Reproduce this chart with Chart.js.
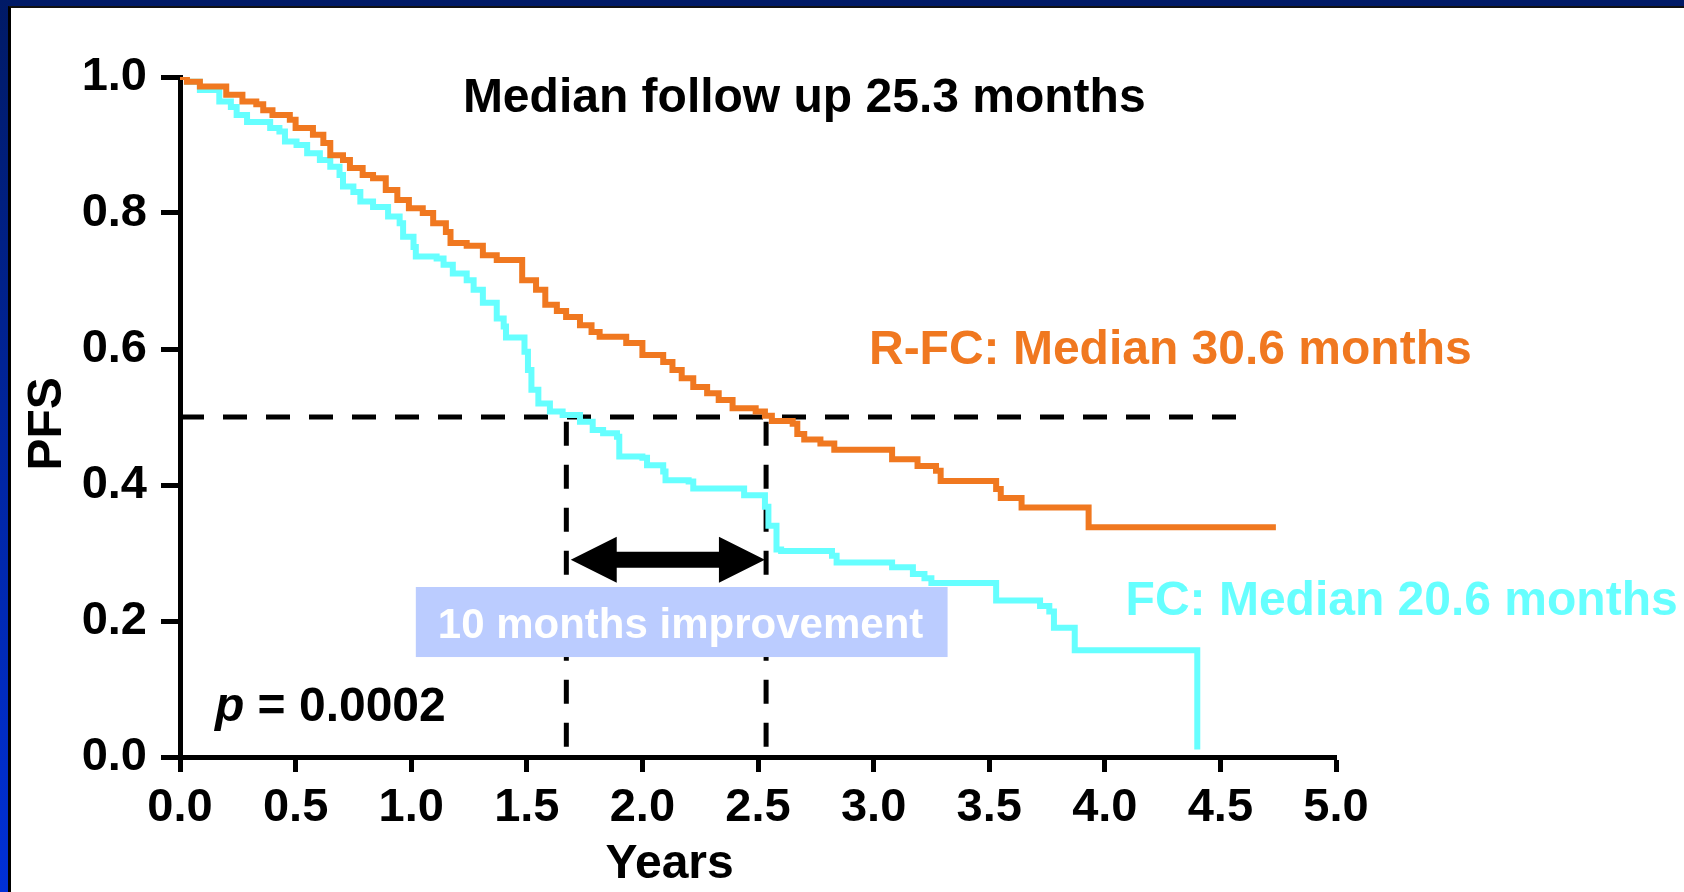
<!DOCTYPE html>
<html>
<head>
<meta charset="utf-8">
<script src="https://cdn.jsdelivr.net/npm/chart.js@4.4.1/dist/chart.umd.min.js"></script>
<style>
  html, body { margin:0; padding:0; width:1684px; height:892px; overflow:hidden; }
  body { background: linear-gradient(to bottom, #001a66 0%, #0030d8 100%); position:relative; }
  #panel { position:absolute; left:8px; top:6px; right:0; bottom:0; background:#fff;
           border-left:3px solid #000; border-top:2px solid #111; }
  #c { position:absolute; left:0; top:0; }
</style>
</head>
<body>
<div id="panel"></div>
<canvas id="c" width="1684" height="892"></canvas>
<script>
const FONT = "'Liberation Sans', Arial, sans-serif"

// R-FC arm: time (years) where a step ends, PFS after the step
const rfcTime = [0,0.03,0.086,0.2,0.27,0.33,0.36,0.40,0.475,0.50,0.575,0.62,0.65,0.705,0.735,0.79,0.835,0.89,0.94,0.99,
  1.05,1.095,1.15,1.17,1.24,1.31,1.37,1.48,1.54,1.58,1.63,1.67,1.73,1.78,1.815,1.93,2.0,2.09,2.13,2.17,2.22,2.28,2.33,
  2.39,2.49,2.53,2.56,2.65,2.67,2.70,2.77,2.83,3.08,3.19,3.27,3.29,3.53,3.55,3.64,3.93,4.74]
const rfcPfs  = [1.0,0.993,0.986,0.974,0.964,0.96,0.951,0.944,0.937,0.925,0.915,0.903,0.885,0.878,0.866,0.856,0.851,0.834,0.819,0.807,
  0.80,0.785,0.772,0.756,0.752,0.738,0.731,0.701,0.687,0.665,0.656,0.647,0.635,0.625,0.618,0.609,0.591,0.581,0.569,0.557,0.544,0.535,0.525,
  0.513,0.508,0.502,0.494,0.49,0.475,0.467,0.461,0.452,0.438,0.428,0.421,0.406,0.394,0.381,0.367,0.338,0.338]

// FC arm
const fcTime = [0,0.03,0.086,0.17,0.22,0.245,0.29,0.39,0.43,0.454,0.504,0.55,0.605,0.65,0.69,0.705,0.75,0.78,0.835,0.9,0.95,0.965,
  1.01,1.02,1.11,1.14,1.18,1.24,1.27,1.31,1.37,1.40,1.41,1.49,1.505,1.52,1.55,1.60,1.655,1.73,1.785,1.83,1.89,1.90,2.0,2.02,2.09,2.10,
  2.20,2.22,2.44,2.53,2.545,2.58,2.60,2.82,2.84,3.08,3.17,3.22,3.25,3.53,3.72,3.76,3.78,3.87,4.40,4.40]
const fcPfs  = [1.0,0.993,0.981,0.964,0.956,0.944,0.934,0.925,0.92,0.905,0.9,0.888,0.878,0.868,0.856,0.839,0.831,0.817,0.809,0.795,0.785,0.765,
  0.75,0.736,0.733,0.724,0.711,0.701,0.687,0.668,0.645,0.633,0.617,0.596,0.569,0.54,0.52,0.508,0.503,0.493,0.481,0.476,0.471,0.442,0.44,0.429,0.42,0.407,
  0.405,0.395,0.385,0.368,0.34,0.305,0.303,0.296,0.286,0.279,0.269,0.263,0.256,0.23,0.222,0.214,0.19,0.157,0.157,0.011]

const medianLevel = 0.5
const medianLineEnd = 4.61
const fcMedian = 1.671
const rfcMedian = 2.535
const xTicks = [0,0.5,1,1.5,2,2.5,3,3.5,4,4.5,5]
const yTicks = [0,0.2,0.4,0.6,0.8,1.0]

const toPts = (ts, ss) => ts.map((t,i)=>({x:t, y:ss[i]}))

// text placements (data units)
const notes = [
  {text:'Median follow up 25.3 months', x:2.70, y:0.968, color:'#000', align:'center'},
  {text:'R-FC: Median 30.6 months', x:2.98, y:0.598, color:'#f07820', align:'left'},
  {text:'FC: Median 20.6 months', x:4.09, y:0.229, color:'#66ffff', align:'left'},
  {text:'Years', x:2.118, y:-0.159, color:'#000', align:'center'},
]
const yTitle = {text:'PFS', x:-0.57, y:0.49}
const box = {x0:1.02, x1:3.32, y0:0.25, y1:0.147, text:'10 months improvement', tx:2.165, ty:0.192}
const arrow = {x0:1.69, x1:2.53, y:0.29}
const pNote = {x:0.151, y:0.073}

const annot = {
  id:'annot',
  afterDatasetsDraw(chart){
    const {ctx, scales:{x, y}} = chart
    ctx.save()
    ctx.textBaseline = 'middle'
    ctx.font = `bold 48px ${FONT}`
    for(const n of notes){
      ctx.fillStyle = n.color
      ctx.textAlign = n.align
      ctx.fillText(n.text, x.getPixelForValue(n.x), y.getPixelForValue(n.y))
    }
    // rotated y title
    ctx.save()
    ctx.translate(x.getPixelForValue(yTitle.x), y.getPixelForValue(yTitle.y))
    ctx.rotate(-Math.PI/2)
    ctx.fillStyle = '#000'
    ctx.textAlign = 'center'
    ctx.fillText(yTitle.text, 0, 0)
    ctx.restore()
    // p value, italic p
    let px = x.getPixelForValue(pNote.x), py = y.getPixelForValue(pNote.y)
    ctx.fillStyle = '#000'
    ctx.textAlign = 'left'
    ctx.font = `italic bold 48px ${FONT}`
    ctx.fillText('p', px, py)
    px += ctx.measureText('p').width
    ctx.font = `bold 48px ${FONT}`
    ctx.fillText(' = 0.0002', px, py)
    // improvement box
    const bx0 = x.getPixelForValue(box.x0), bx1 = x.getPixelForValue(box.x1)
    const by0 = y.getPixelForValue(box.y0), by1 = y.getPixelForValue(box.y1)
    ctx.fillStyle = '#bbccff'
    ctx.fillRect(bx0, by0, bx1-bx0, by1-by0)
    ctx.fillStyle = '#fff'
    ctx.textAlign = 'center'
    ctx.font = `bold 42px ${FONT}`
    ctx.fillText(box.text, x.getPixelForValue(box.tx), y.getPixelForValue(box.ty))
    // double arrow
    const ax0 = x.getPixelForValue(arrow.x0), ax1 = x.getPixelForValue(arrow.x1), ay = y.getPixelForValue(arrow.y)
    const hl = 46, hh = 23, sh = 8
    ctx.fillStyle = '#000'
    ctx.beginPath()
    ctx.moveTo(ax0, ay)
    ctx.lineTo(ax0+hl, ay-hh); ctx.lineTo(ax0+hl, ay-sh)
    ctx.lineTo(ax1-hl, ay-sh); ctx.lineTo(ax1-hl, ay-hh)
    ctx.lineTo(ax1, ay)
    ctx.lineTo(ax1-hl, ay+hh); ctx.lineTo(ax1-hl, ay+sh)
    ctx.lineTo(ax0+hl, ay+sh); ctx.lineTo(ax0+hl, ay+hh)
    ctx.closePath()
    ctx.fill()
    ctx.restore()
  }
}

const dashed = {borderColor:'#000', borderWidth:5, borderDash:[24,19], showLine:true, pointRadius:0, borderCapStyle:'butt'}

new Chart(document.getElementById('c'), {
  type:'scatter',
  data:{
    datasets:[
      {label:'R-FC', data:toPts(rfcTime, rfcPfs), borderColor:'#f07820', borderWidth:6, stepped:true, showLine:true, pointRadius:0, borderJoinStyle:'miter'},
      {label:'FC', data:toPts(fcTime, fcPfs), borderColor:'#66ffff', borderWidth:6, stepped:true, showLine:true, pointRadius:0, borderJoinStyle:'miter'},
      {label:'median', data:[{x:0,y:medianLevel},{x:medianLineEnd,y:medianLevel}], ...dashed},
      {label:'fc median', data:[{x:fcMedian,y:medianLevel-0.007},{x:fcMedian,y:0}], ...dashed},
      {label:'rfc median', data:[{x:rfcMedian,y:medianLevel-0.007},{x:rfcMedian,y:0}], ...dashed},
    ]
  },
  options:{
    responsive:false,
    animation:false,
    layout:{padding:{left:0, top:77, right:348, bottom:0}},
    plugins:{legend:{display:false}, tooltip:{enabled:false}},
    scales:{
      x:{
        type:'linear', min:0, max:5,
        afterBuildTicks: s => { s.ticks = xTicks.map(v=>({value:v})) },
        afterFit: s => { s.height = 135 },
        ticks:{color:'#000', padding:8, maxRotation:0, autoSkip:false, font:{family:FONT, size:47, weight:'bold'}, callback:v=>Number(v).toFixed(1)},
        grid:{drawOnChartArea:false, tickLength:15, tickWidth:5, tickColor:'#000'},
        border:{color:'#000', width:5}
      },
      y:{
        min:0, max:1,
        afterBuildTicks: s => { s.ticks = yTicks.map(v=>({value:v})) },
        afterFit: s => { s.width = 180 },
        ticks:{color:'#000', padding:14, font:{family:FONT, size:47, weight:'bold'}, callback:v=>Number(v).toFixed(1)},
        grid:{drawOnChartArea:false, tickLength:19, tickWidth:5, tickColor:'#000'},
        border:{color:'#000', width:5}
      }
    }
  },
  plugins:[annot]
})
</script>
</body>
</html>
